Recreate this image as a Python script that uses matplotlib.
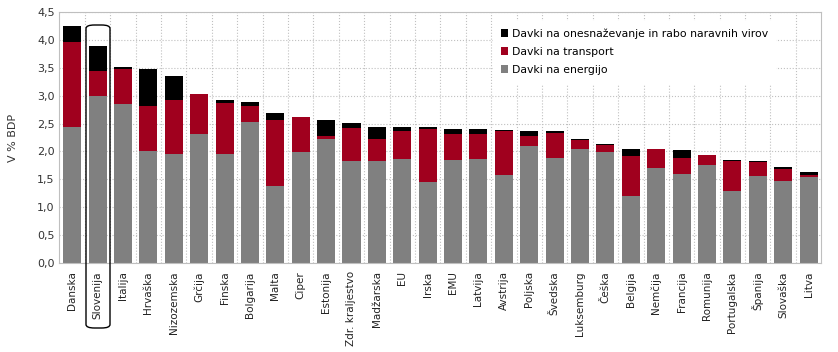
import numpy as np
import matplotlib.pyplot as plt
from matplotlib.patches import FancyBboxPatch

drzave = ['Danska', 'Slovenija', 'Italija', 'Hrvaška', 'Nizozemska', 'Grčija', 'Finska',
          'Bolgarija', 'Malta', 'Ciper', 'Estonija', 'Zdr. kraljestvo', 'Madžarska', 'EU',
          'Irska', 'EMU', 'Latvija', 'Avstrija', 'Poljska', 'Švedska', 'Luksemburg',
          'Češka', 'Belgija', 'Nemčija', 'Francija', 'Romunija', 'Portugalska', 'Španija',
          'Slovaška', 'Litva']

energija = [2.44, 2.99, 2.85, 2.01, 1.95, 2.31, 1.95, 2.53, 1.38, 1.99, 2.22, 1.83, 1.83, 1.87,
            1.45, 1.85, 1.87, 1.58, 2.10, 1.88, 2.04, 1.99, 1.20, 1.70, 1.60, 1.76, 1.29, 1.56,
            1.47, 1.54]
transport = [1.52, 0.45, 0.62, 0.80, 0.97, 0.72, 0.92, 0.28, 1.18, 0.63, 0.06, 0.59, 0.39, 0.50,
             0.95, 0.46, 0.44, 0.79, 0.18, 0.45, 0.17, 0.13, 0.72, 0.34, 0.28, 0.18, 0.54, 0.25,
             0.22, 0.04]
onesnazevanje = [0.28, 0.45, 0.04, 0.66, 0.43, 0.00, 0.05, 0.07, 0.13, 0.00, 0.28, 0.09, 0.22,
                 0.07, 0.04, 0.09, 0.09, 0.01, 0.09, 0.04, 0.02, 0.02, 0.12, 0.00, 0.15, 0.00,
                 0.02, 0.02, 0.03, 0.05]

x = np.arange(len(drzave))
energija = np.array(energija)
transport = np.array(transport)
onesnazevanje = np.array(onesnazevanje)

plt.rcParams['font.family'] = 'DejaVu Sans'
fig = plt.figure(figsize=(8.38, 3.52), dpi=100)
ax = fig.add_axes([0.071, 0.253, 0.909, 0.713])

w = 0.71
ax.bar(x, energija, w, color='#808080', label='Davki na energijo', zorder=2)
ax.bar(x, transport, w, bottom=energija, color='#A0001E', label='Davki na transport', zorder=2)
ax.bar(x, onesnazevanje, w, bottom=energija + transport, color='black',
       label='Davki na onesnaževanje in rabo naravnih virov', zorder=2)

ax.set_xlim(-0.5, len(drzave) - 0.5)
ax.set_ylim(0, 4.5)
ax.set_yticks(np.arange(0, 4.51, 0.5))
ax.set_yticklabels([f'{v:.1f}'.replace('.', ',') for v in np.arange(0, 4.51, 0.5)],
                   fontsize=8, color='#333333')
ax.set_xticks(x)
ax.set_xticklabels(drzave, rotation=90, fontsize=7.5, color='#222222')
ax.set_xticks(x[:-1] + 0.5, minor=True)
ax.tick_params(axis='both', which='both', length=0)
ax.tick_params(axis='x', pad=6)
ax.grid(axis='y', which='major', linestyle=':', color='#c0c0c0', linewidth=0.8, zorder=0)
ax.grid(axis='x', which='minor', linestyle=':', color='#c0c0c0', linewidth=0.8, zorder=0)
for s in ax.spines.values():
    s.set_color('#bfbfbf')
ax.set_ylabel('V % BDP', fontsize=8, color='#333333', labelpad=14)

h, l = ax.get_legend_handles_labels()
leg = ax.legend(h[::-1], l[::-1], loc='upper right', bbox_to_anchor=(0.947, 0.987),
                fontsize=7.8, frameon=True, fancybox=False, handlelength=0.7,
                handleheight=0.7, handletextpad=0.3, labelspacing=0.75, borderpad=0.7)
leg.get_frame().set_edgecolor('white')
leg.get_frame().set_facecolor('white')
leg.get_frame().set_alpha(1)

# okvir okrog Slovenije
box = FancyBboxPatch((86 / 838, 1 - 328 / 352), 24 / 838, 303 / 352,
                     boxstyle='round,pad=0,rounding_size=0.01', transform=fig.transFigure,
                     fill=False, edgecolor='black', linewidth=1.0, zorder=5)
fig.patches.append(box)

fig.savefig('out.png', dpi=100)
